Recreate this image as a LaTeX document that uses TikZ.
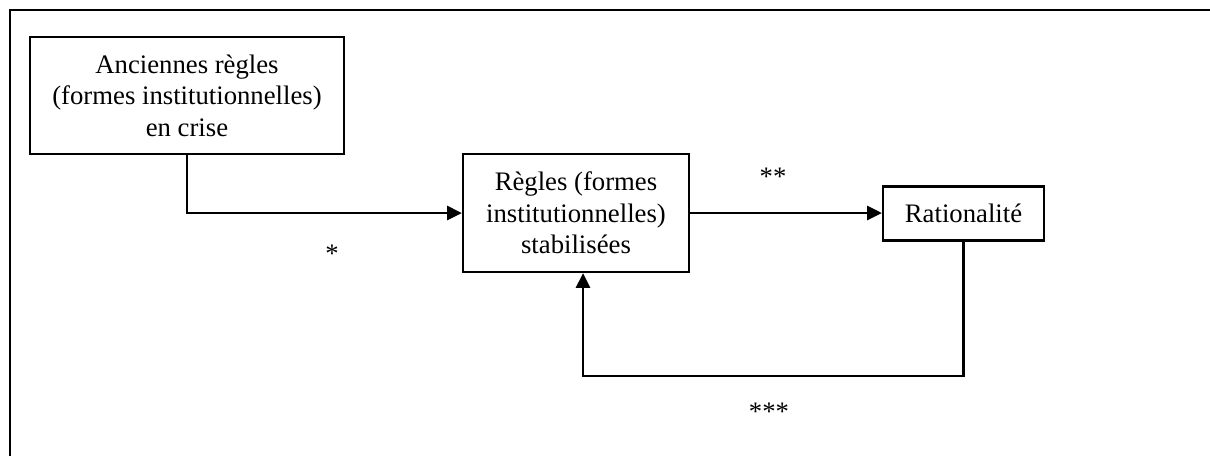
\documentclass[tikz,border=0pt]{standalone}
\usepackage{fontspec}
\setmainfont{Liberation Serif}
\usetikzlibrary{arrows.meta, positioning}

\begin{document}
\begin{tikzpicture}[x=0.025cm, y=-0.025cm,
    font=\fontsize{19}{22.5}\selectfont,
    box/.style={draw, line width=1.6pt, align=center, inner sep=0pt},
    link/.style={line width=1.6pt, -{Triangle[length=10.5pt, width=10pt]}}]
    \useasboundingbox (0,0) rectangle (1210,456);
    % outer frame, cut at right and bottom
    \draw[line width=1.6pt] (1210,10) -- (10,10) -- (10,456);
    % boxes
    \node[box, minimum width=7.85cm, minimum height=2.925cm] (old) at (187,95.5)
      {Anciennes règles\\(formes institutionnelles)\\en crise};
    \node[box, minimum width=5.65cm, minimum height=2.95cm] (stab) at (576,213)
      {Règles (formes\\institutionnelles)\\stabilisées};
    \node[box, minimum width=4.025cm, minimum height=1.35cm] (rat) at (963.5,213.5)
      {Rationalité};
    % links
    \coordinate (back) at (583,376);
    \draw[link] (old.south) |- (stab.west);
    \draw[link] (stab.east) -- (stab.east -| rat.west);
    \draw[link] (rat.south) |- (back) -- (back |- stab.south);
    % marks
    \node (m1) at (332,254) {*};
    \node (m2) at (773,177) {**};
    \node (m3) at (769,412) {***};
  \end{tikzpicture}
\end{document}
